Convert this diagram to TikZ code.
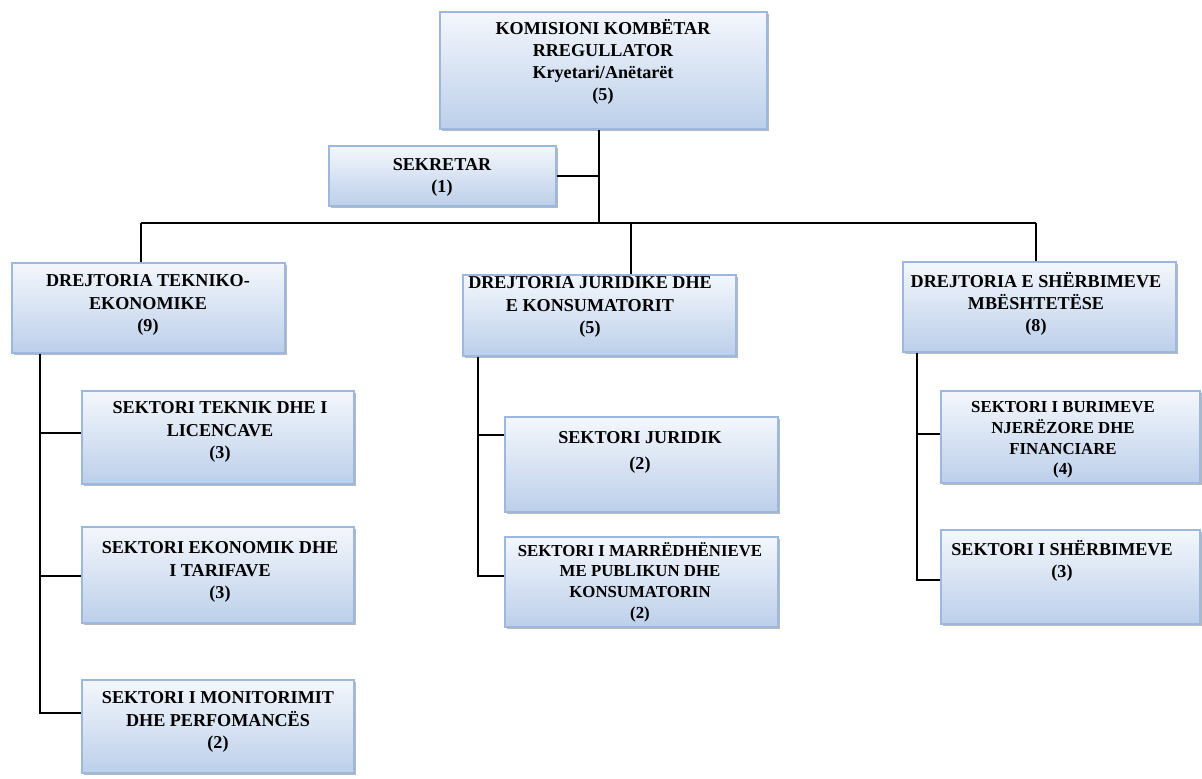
\documentclass[tikz,border=0pt]{standalone}
\usepackage{fontspec}
\setmainfont{Liberation Serif}
\usetikzlibrary{shadows,fit}
\definecolor{boxtop}{HTML}{F4F7FC}
\definecolor{boxbot}{HTML}{BCCFEA}
\definecolor{boxline}{HTML}{9DB8DE}
\tikzset{
  orgbox/.style={draw=boxline, line width=0.9pt, top color=boxtop, bottom color=boxbot,
    inner sep=0pt, drop shadow={shadow xshift=1.6pt, shadow yshift=-1.6pt, fill=black!50, opacity=0.55}},
  lbl/.style={align=center, inner sep=0pt, font=\fontsize{13.6}{16.6}\selectfont\bfseries},
  lbls/.style={align=center, inner sep=0pt, font=\fontsize{12.6}{15.6}\selectfont\bfseries},
  conn/.style={draw=black, line width=0.95pt}
}
\begin{document}
\begin{tikzpicture}[x=0.75pt,y=-0.75pt]
\useasboundingbox (0,0) rectangle (1202,778);
% boxes
\node[orgbox, fit={(440,12) (767,129)}] (top) {};
\node[lbl] (top-t) at (603,62) {KOMISIONI KOMBËTAR\\RREGULLATOR\\Kryetari/Anëtarët\\(5)};
\node[orgbox, fit={(329,146) (556,206)}] (sek) {};
\node[lbl] (sek-t) at (442,177) {SEKRETAR\\(1)};

\node[orgbox, fit={(12,263) (285,353)}] (dte) {};
\node[lbl] (dte-t) at (148,305) {DREJTORIA TEKNIKO-\\EKONOMIKE\\(9)};
\node[orgbox, fit={(463,275) (736,356)}] (djk) {};
\node[lbl] (djk-t) at (590,307) {DREJTORIA JURIDIKE DHE\\E KONSUMATORIT\\(5)};
\node[orgbox, fit={(903,262) (1176,352)}] (dsm) {};
\node[lbl] (dsm-t) at (1036,304) {DREJTORIA E SHËRBIMEVE\\MBËSHTETËSE\\(8)};

\node[orgbox, fit={(82,391) (354,484)}] (tek) {};
\node[lbl] (tek-t) at (220,432) {SEKTORI TEKNIK DHE I\\LICENCAVE\\(3)};
\node[orgbox, fit={(82,527) (354,623)}] (eko) {};
\node[lbl] (eko-t) at (220,572) {SEKTORI EKONOMIK DHE\\I TARIFAVE\\(3)};
\node[orgbox, fit={(82,680) (354,773)}] (mon) {};
\node[lbl] (mon-t) at (218,722) {SEKTORI I MONITORIMIT\\DHE PERFOMANCËS\\(2)};

\node[orgbox, fit={(505,417) (778,512)}] (jur) {};
\node[lbl] (jur-t) at (640,452) {SEKTORI JURIDIK\\[3pt](2)};
\node[orgbox, fit={(505,537) (778,627)}] (mar) {};
\node[lbls] (mar-t) at (640,582) {SEKTORI I MARRËDHËNIEVE\\ME PUBLIKUN DHE\\KONSUMATORIN\\(2)};

\node[orgbox, fit={(941,391) (1200,483)}] (bur) {};
\node[lbls] (bur-t) at (1063,440) {SEKTORI I BURIMEVE\\NJERËZORE DHE\\FINANCIARE\\(4)};
\node[orgbox, fit={(941,530) (1200,624)}] (sh) {};
\node[lbl] (sh-t) at (1062,561) {SEKTORI I SHËRBIMEVE\\(3)};

% junctions
\coordinate (j0) at (599,223);
\coordinate (jl) at (141,223);
\coordinate (jm) at (631,223);
\coordinate (jr) at (1036,223);
\coordinate (l1) at (40,433);
\coordinate (l2) at (40,576);
\coordinate (l3) at (40,713);
\coordinate (m1) at (478,435);
\coordinate (m2) at (478,576);
\coordinate (r1) at (917,434);
\coordinate (r2) at (917,580);

% connectors
\draw[conn] (top.south -| j0) -- (j0);
\draw[conn] (sek.east) -- (sek.east -| j0);
\draw[conn] (jl) -- (jr);
\draw[conn] (jl) -- (jl |- dte.north);
\draw[conn] (jm) -- (jm |- djk.north);
\draw[conn] (jr) -- (jr |- dsm.north);

\draw[conn] (dte.south -| l3) -- (l3) -- (l3 -| mon.west);
\draw[conn] (l1) -- (l1 -| tek.west);
\draw[conn] (l2) -- (l2 -| eko.west);

\draw[conn] (djk.south -| m2) -- (m2) -- (m2 -| mar.west);
\draw[conn] (m1) -- (m1 -| jur.west);

\draw[conn] (dsm.south -| r2) -- (r2) -- (r2 -| sh.west);
\draw[conn] (r1) -- (r1 -| bur.west);
\end{tikzpicture}
\end{document}
